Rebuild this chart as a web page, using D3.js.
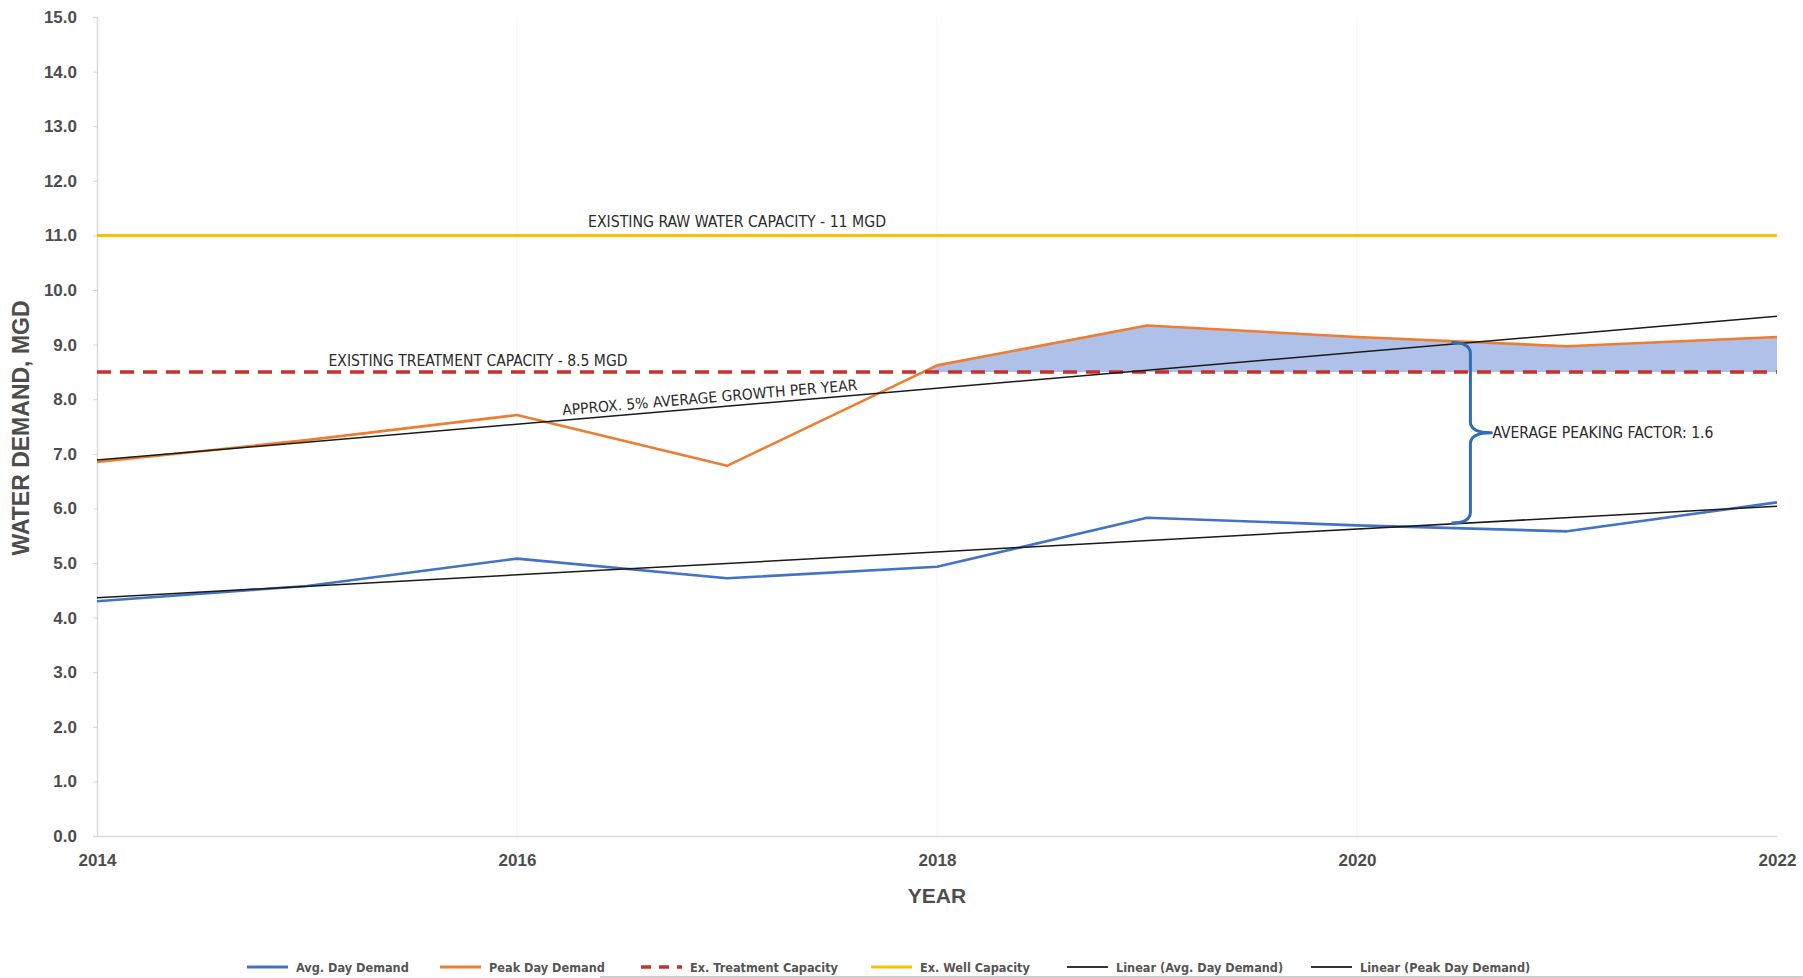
<!DOCTYPE html>
<html>
<head>
<meta charset="utf-8">
<script src="https://cdn.jsdelivr.net/npm/d3@7"></script>
<style>
  html, body { margin: 0; padding: 0; background: #ffffff; }
  svg { display: block; }
</style>
</head>
<body>
<svg id="chart" width="1803" height="978"></svg>
<script>
// ---------- DATA ----------
const years = [2014, 2015, 2016, 2017, 2018, 2019, 2020, 2021, 2022];
const avgDayDemand  = [4.30, 4.58, 5.08, 4.72, 4.93, 5.83, 5.69, 5.58, 6.11];
const peakDayDemand = [6.85, 7.25, 7.71, 6.78, 8.62, 9.35, 9.14, 8.97, 9.14];
const treatmentCapacity = 8.5;
const wellCapacity = 11;
const yTicks = [0,1,2,3,4,5,6,7,8,9,10,11,12,13,14,15];
const xTicks = [2014, 2016, 2018, 2020, 2022];
const legendLabels = ["Avg. Day Demand", "Peak Day Demand", "Ex. Treatment Capacity",
                      "Ex. Well Capacity", "Linear (Avg. Day Demand)", "Linear (Peak Day Demand)"];
const annotations = {
  raw: "EXISTING RAW WATER CAPACITY - 11 MGD",
  treat: "EXISTING TREATMENT CAPACITY - 8.5 MGD",
  growth: "APPROX. 5% AVERAGE GROWTH PER YEAR",
  peaking: "AVERAGE PEAKING FACTOR: 1.6"
};
const braceYear = 2020.54;

// ---------- HELPERS ----------
function linReg(xs, ys) {
  const mx = d3.mean(xs), my = d3.mean(ys);
  let sxy = 0, sxx = 0;
  xs.forEach((x, i) => { sxy += (x - mx) * (ys[i] - my); sxx += (x - mx) * (x - mx); });
  const b = sxy / sxx, a = my - b * mx;
  return x => a + b * x;
}
const avgTrend = linReg(years, avgDayDemand);
const peakTrend = linReg(years, peakDayDemand);

// ---------- SETUP ----------
const svg = d3.select("#chart");
const x = d3.scaleLinear().domain([2014, 2022]).range([97, 1777]);
const y = d3.scaleLinear().domain([0, 15]).range([836, 17]);

const C = {
  avg: "#4472C4", peak: "#ED7D31", treat: "#C8302A", well: "#FFC000",
  trend: "#1a1a1a", fill: "#AFC1E8", axis: "#D9D9D9", text: "#4d4d4d", brace: "#2F6DB5"
};
const narrow = "'Liberation Sans Narrow', 'Arial Narrow', 'DejaVu Sans Condensed', sans-serif";
const sans = "'Liberation Sans', Arial, sans-serif";

// faint vertical gridlines
svg.append("g").selectAll("line").data(xTicks.slice(1, -1)).join("line")
  .attr("x1", d => x(d)).attr("x2", d => x(d))
  .attr("y1", y(15)).attr("y2", y(0))
  .attr("stroke", "#f4f4f4").attr("stroke-width", 1);

// ---------- AXES ----------
const yAxis = svg.append("g").attr("transform", `translate(${x(2014)},0)`)
  .call(d3.axisLeft(y).tickValues(yTicks).tickFormat(d3.format(".1f")).tickSize(4).tickPadding(16));
yAxis.select(".domain").attr("stroke", C.axis).attr("stroke-width", 1.5);
yAxis.selectAll(".tick line").attr("stroke", C.axis);
yAxis.selectAll(".tick text").attr("font-family", sans).attr("font-weight", "bold")
  .attr("font-size", 17).attr("fill", C.text);

const xAxis = svg.append("g").attr("transform", `translate(0,${y(0)})`)
  .call(d3.axisBottom(x).tickValues(xTicks).tickFormat(d3.format("d")).tickSize(0).tickPadding(18));
xAxis.select(".domain").attr("stroke", C.axis).attr("stroke-width", 1.5);
xAxis.selectAll(".tick text").attr("font-family", sans).attr("font-weight", "bold")
  .attr("font-size", 17).attr("fill", C.text);

svg.append("text").attr("x", (x(2014) + x(2022)) / 2).attr("y", 903)
  .attr("text-anchor", "middle").attr("font-family", sans).attr("font-weight", "bold")
  .attr("font-size", 21).attr("fill", C.text).text("YEAR");

svg.append("text").attr("transform", `translate(29,428) rotate(-90)`)
  .attr("text-anchor", "middle").attr("font-family", sans).attr("font-weight", "bold")
  .attr("font-size", 23).attr("fill", C.text).text("WATER DEMAND, MGD");

// ---------- SHADED EXCEEDANCE AREA ----------
svg.append("clipPath").attr("id", "aboveTreat").append("rect")
  .attr("x", x(2014)).attr("y", y(15)).attr("width", x(2022) - x(2014)).attr("height", y(treatmentCapacity) - y(15));
const area = d3.area().x((d, i) => x(years[i])).y0(y(treatmentCapacity)).y1(d => y(d));
svg.append("path").datum(peakDayDemand).attr("d", area)
  .attr("fill", C.fill).attr("clip-path", "url(#aboveTreat)");

// ---------- LINES ----------
const line = d3.line().x((d, i) => x(years[i])).y(d => y(d));

svg.append("line").attr("x1", x(2014)).attr("x2", x(2022))
  .attr("y1", y(wellCapacity)).attr("y2", y(wellCapacity))
  .attr("stroke", C.well).attr("stroke-width", 3);

svg.append("path").datum(avgDayDemand).attr("d", line)
  .attr("fill", "none").attr("stroke", C.avg).attr("stroke-width", 2.6).attr("stroke-linejoin", "round");
svg.append("path").datum(peakDayDemand).attr("d", line)
  .attr("fill", "none").attr("stroke", C.peak).attr("stroke-width", 2.6).attr("stroke-linejoin", "round");

svg.append("line").attr("x1", x(2014)).attr("x2", x(2022))
  .attr("y1", y(treatmentCapacity)).attr("y2", y(treatmentCapacity))
  .attr("stroke", C.treat).attr("stroke-width", 3.5).attr("stroke-dasharray", "14,9");

[avgTrend, peakTrend].forEach(f => {
  svg.append("line").attr("x1", x(2014)).attr("x2", x(2022))
    .attr("y1", y(f(2014))).attr("y2", y(f(2022)))
    .attr("stroke", C.trend).attr("stroke-width", 1.5);
});

// ---------- ANNOTATIONS ----------
svg.append("text").attr("x", 737).attr("y", 227).attr("text-anchor", "middle")
  .attr("font-family", narrow).attr("font-size", 15).attr("fill", "#2b2b2b")
  .attr("textLength", 298).attr("lengthAdjust", "spacingAndGlyphs").text(annotations.raw);

svg.append("text").attr("x", 478).attr("y", 366).attr("text-anchor", "middle")
  .attr("font-family", narrow).attr("font-size", 15).attr("fill", "#2b2b2b")
  .attr("textLength", 299).attr("lengthAdjust", "spacingAndGlyphs").text(annotations.treat);

// growth label along the peak trend line
const gYear = 2016.92;
const gx = x(gYear), gy = y(peakTrend(gYear));
const ang = Math.atan2(y(peakTrend(2022)) - y(peakTrend(2014)), x(2022) - x(2014)) * 180 / Math.PI;
svg.append("text").attr("transform", `translate(${gx},${gy - 5}) rotate(${ang})`)
  .attr("text-anchor", "middle").attr("font-family", narrow).attr("font-size", 15).attr("fill", "#2b2b2b")
  .attr("textLength", 296).attr("lengthAdjust", "spacingAndGlyphs").text(annotations.growth);

// curly brace for peaking factor
const sx = x(braceYear);
const yTop = y(peakTrend(braceYear)), yBot = y(avgTrend(braceYear));
const yMid = (yTop + yBot) / 2;
const r = 11, hook = 19, tip = 21;
const bp = d3.path();
bp.moveTo(sx - hook, yTop);
bp.quadraticCurveTo(sx, yTop, sx, yTop + r);
bp.lineTo(sx, yMid - r);
bp.quadraticCurveTo(sx, yMid, sx + tip, yMid);
bp.quadraticCurveTo(sx, yMid, sx, yMid + r);
bp.lineTo(sx, yBot - r);
bp.quadraticCurveTo(sx, yBot, sx - hook, yBot);
svg.append("path").attr("d", bp.toString()).attr("fill", "none")
  .attr("stroke", C.brace).attr("stroke-width", 3).attr("stroke-linejoin", "round");

svg.append("text").attr("x", sx + tip + 1).attr("y", yMid + 5)
  .attr("font-family", narrow).attr("font-size", 15).attr("fill", "#2b2b2b")
  .attr("textLength", 221).attr("lengthAdjust", "spacingAndGlyphs").text(annotations.peaking);

// ---------- LEGEND ----------
const legendX = [247, 440, 641, 871, 1067, 1311];
const legendStyles = [
  { c: C.avg, w: 3, dash: null },
  { c: C.peak, w: 3, dash: null },
  { c: C.treat, w: 3.5, dash: "10,8" },
  { c: C.well, w: 3, dash: null },
  { c: "#333", w: 2, dash: null },
  { c: "#333", w: 2, dash: null }
];
const lg = svg.append("g").attr("transform", "translate(0,967)");
legendLabels.forEach((lab, i) => {
  const g = lg.append("g").attr("transform", `translate(${legendX[i]},0)`);
  const ln = g.append("line").attr("x1", 0).attr("x2", 41).attr("y1", 0).attr("y2", 0)
    .attr("stroke", legendStyles[i].c).attr("stroke-width", legendStyles[i].w);
  if (legendStyles[i].dash) ln.attr("stroke-dasharray", legendStyles[i].dash);
  g.append("text").attr("x", 49).attr("y", 5).attr("font-family", narrow).attr("font-weight", "bold")
    .attr("font-size", 12.6).attr("fill", "#555").text(lab);
});

// faint frame line at bottom
svg.append("line").attr("x1", 600).attr("x2", 1803).attr("y1", 977).attr("y2", 977)
  .attr("stroke", "#bbb").attr("stroke-width", 1.5);
</script>
</body>
</html>
